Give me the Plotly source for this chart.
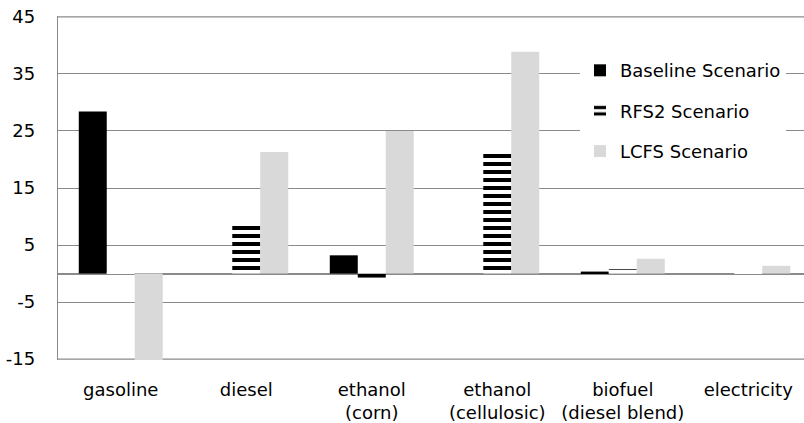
import plotly.graph_objects as go

categories = ["gasoline", "diesel", "ethanol<br>(corn)", "ethanol<br>(cellulosic)",
              "biofuel<br>(diesel blend)", "electricity"]
baseline = [28.4, 0.0, 3.2, 0.0, 0.35, 0.0]
rfs2 = [0.3, 8.5, -0.7, 21.6, 0.75, 0.35]
lcfs = [-15.3, 21.3, 25.0, 38.9, 2.6, 1.35]
y_ticks = [-15, -5, 5, 15, 25, 35, 45]
y_tick_text = ["-15", "-5", "5", "15", "25", "35", "45"]
y_min, y_max = -15, 45

FONT = "DejaVu Sans"
GRID = "#8a8a8a"

fig = go.Figure()
fig.add_trace(go.Bar(x=categories, y=baseline, name="Baseline Scenario",
                     legendgroup="a",
                     marker=dict(color="#000000", line=dict(width=0))))
fig.add_trace(go.Bar(x=categories, y=rfs2, name="RFS2 Scenario",
                     legendgroup="b",
                     marker=dict(color="#ffffff", line=dict(width=0),
                                 pattern=dict(shape="-", fgcolor="#000000",
                                              bgcolor="#ffffff", size=8,
                                              solidity=0.5, fgopacity=1,
                                              fillmode="replace"))))
fig.add_trace(go.Bar(x=categories, y=lcfs, name="LCFS Scenario",
                     legendgroup="c",
                     marker=dict(color="#d9d9d9", line=dict(width=0))))

# boundary gridlines (top and bottom of the value axis)
for yv in (y_min, y_max):
    fig.add_shape(type="line", xref="paper", yref="y", x0=0, x1=1, y0=yv, y1=yv,
                  line=dict(color=GRID, width=1.3), layer="below")

fig.update_layout(
    width=804, height=423,
    margin=dict(l=58, r=0, t=16, b=63, autoexpand=False),
    paper_bgcolor="white", plot_bgcolor="white",
    barmode="group", bargap=0.331, bargroupgap=0,
    font=dict(family=FONT, size=18, color="#000000"),
    showlegend=True,
    legend=dict(x=0.6997, xanchor="left", y=0.895, yanchor="top",
                bgcolor="white", borderwidth=0,
                font=dict(family=FONT, size=18, color="#000000"),
                tracegroupgap=14, itemwidth=30),
    xaxis=dict(range=[-0.5, 5.444], showgrid=False, showline=False,
               ticks="", tickfont=dict(size=18), ticklabelstandoff=17),
    yaxis=dict(range=[y_min - 0.15, y_max + 0.15], tickvals=y_ticks,
               ticktext=y_tick_text, showgrid=True,
               gridcolor=GRID, gridwidth=1.3, zeroline=True,
               zerolinecolor=GRID, zerolinewidth=1.5,
               showline=True, linecolor=GRID, linewidth=1.3,
               ticks="", tickfont=dict(size=18), ticklabelstandoff=18),
)

# remove the page's default body margin so the figure sits at the window's corner
fig.write_html("out.html", config={"displayModeBar": False},
               post_script="document.body.style.margin='0';")
